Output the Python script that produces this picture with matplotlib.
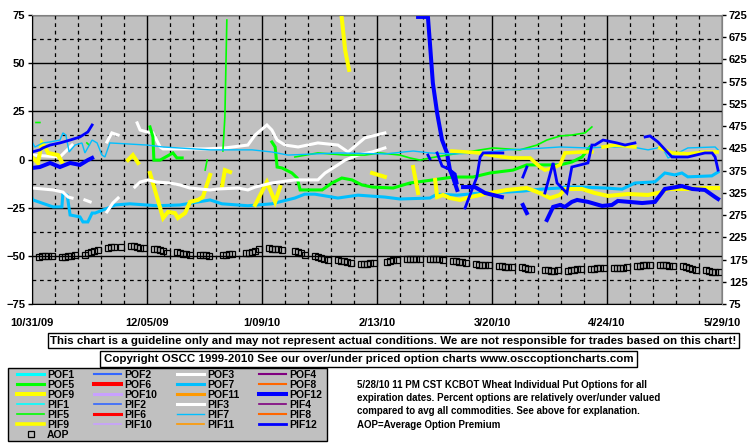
import numpy as np
import pandas as pd
import matplotlib
matplotlib.use("Agg")
import matplotlib.pyplot as plt
from matplotlib.ticker import MultipleLocator
from matplotlib.patches import Rectangle

plt.rcParams['font.family'] = ['Liberation Sans', 'DejaVu Sans']
plt.rcParams['font.weight'] = 'bold'

nan = np.nan

# x = calendar days after 10/31/09
date_labels = ['10/31/09', '12/05/09', '1/09/10', '2/13/10', '3/20/10', '4/24/10', '5/29/10']

pof7_days = [0, 0.3, 6.4, 9.1, 9.4, 10.7, 11.6, 14.6, 15.5, 17, 18.3, 19.2, 23.1, 25.3, 29.8, 38, 45, 54.2, 57.8,
             65.7, 73, 80, 83, 86.1, 93.1, 99.2, 107.4, 112, 121.1, 123.3, 129.4, 136.4, 144.6, 149.4, 154.6,
             160.7, 162.2, 167.4, 174.5, 179.6, 183.5, 189.6, 192.6, 195.6, 197.8, 199.6, 206.9, 208.8]
pof7_vals = [-20, -21, -24.6, -24.6, -17.4, -18.5, -28.8, -29.8, -32.4, -32.4, -27.8, -27.8, -25.2, -23.6, -23,
             -24, -23.6, -21, -23, -24, -23, -20, -18, -18, -20, -18.5, -19.5, -20.5, -20, -18, -18.5, -17.4,
             -16.9, -16.4, -15.4, -14.8, -14.3, -14.3, -14.8, -15.4, -12.2, -11.6, -7, -8, -7, -9, -8.5, -6.5]

pif7_days = [0, 0.9, 3.3, 5.5, 8.5, 9.4, 10.3, 11.3, 13.1, 15.2, 16.1, 18.3, 19.8, 21.3, 22.2, 23.7, 35, 39.9,
             54.2, 58.7, 67, 73, 77.9, 93.1, 107.4, 116, 121.1, 128.1, 136.4, 144.6, 151.6, 160.7, 169.2, 175.3,
             182.6, 187.5, 191.7, 193.6, 199.6, 207.9, 208.8]
pif7_vals = [9.1, 6.5, 8.6, 9.1, 10.1, 13.8, 12.7, 3.9, 7.5, 8.6, 3.4, 10.1, 8.6, 2.3, 1.3, 8.6, 7.5, 6.5, 5, 5,
             5, 3.9, 2.3, 3.4, 2.9, 4.4, 3.4, 2.9, 3.4, 5, 5.5, 6.5, 6, 6.5, 6.5, 5, 6.5, 0.8, 6, 6.5, 5]

pof3_days = [0.3, 8.5, 10.7, 12.2, nan, 22.8, 24.3, 26.2, nan, 32, 32.9, 35, 36.8, 39, 39.9, 46, 52.7, 58.7,
             65.7, 67.9, 71.5, 73, 74.6, 77, 81, 87, 93.1, 96.2, 101.3, 107.4]
pof3_vals = [2.3, 1.3, 5, 7.5, nan, 9.1, 13.8, 12.7, nan, 19, 15.3, 14.3, 13.8, 6.5, 5.5, 5.5, 5.5, 6, 7.5, 12.7,
             17.9, 15.3, 10.1, 7.5, 6.5, 8.6, 7.5, 3.9, 11.2, 13.8]

pif3_days = [0, 3.3, 6.4, 9.4, 11, 12.2, nan, 16.1, 17.7, nan, 22.8, 24.6, 26.2, nan, 31.3, 32.9, 35.3, 38, 42,
             45, 48, 54.2, 56.6, 62.7, 65.7, 67.9, 73, 80, 87, 89.2, 93.1, 95.3, 99.2, 103.5, 107.4]
pif3_vals = [-14.8, -15.3, -15.8, -16.9, -19.5, -20, nan, -21, -22, nan, -27.2, -22.6, -20, nan, -14.3, -11.7,
             -10.6, -11.7, -12.2, -13.2, -14.8, -15.8, -15.3, -14.8, -15.8, -14.3, -12.2, -10.6, -10.6, -7, -2.8,
             -0.3, 2.3, 3.9, 6]

pof9_days = [0, 1.8, 3, 4, 4.9, 7.9, 9.1, nan, 29.2, 30.7, 32.3, nan, 35.9, 39.9, 41.4, 43.5, 44.4, 46.6, 48.1,
             50.5, 52, 54.2, nan, 57.8, 58.7, 60.3, nan, 67.9, 71.5, 74, 75.5, nan, 94, 95.3, 95.9, 96.5, nan,
             103.5, 107.4, nan, 116, 117.5, nan, 122.7, 123.3, 125.1, 127.2, 130.3, 133.3, 139.4, 144.6, 150.6,
             154.6, 157.7, 160.7, 162.2, 167.4, 171.3, 175.3, 181.4, 187.5, 191.7, 193.6, 199.6, 204.8, 208.8]
pof9_vals = [1.3, -1.8, 8.6, 6.5, 3.4, 2.3, -1.3, nan, -0.3, 2.3, -1.8, nan, -7, -30.4, -27.2, -27.8, -30.4,
             -27.8, -22, -21, -19.5, -8, nan, -14.3, -5.5, -6.5, nan, -23.6, -11.7, -22, -14.3, nan, 78, 56.8,
             51.6, 46.5, nan, -7, -9, nan, -3.9, -17.4, nan, -10.6, -19.5, -18.4, -20, -21, -19.5, -17.4, -15.8,
             -14.8, -17.4, -20, -18.4, -15.3, -15.3, -17.4, -18.9, -17.9, -18.4, -16.9, -15.3, -15.3, -14.8, -14.8]

pif9_days = [127.8, 136.4, 139.4, 143.3, 146.4, 151.6, 154.6, 156.1, 158.6, 160.7, 162.2, 167.4, 170.4, nan,
             173.8, 177.4, 183.5, nan, 191.1, 194.8, 199.6, 204.8, 208.5]
pif9_vals = [4.4, 3.4, 2.3, 1.3, 0.8, 0.8, -3.9, -5.5, -4.4, -2.8, 3.4, 3.9, 3.9, nan, 6.5, 7.5, 6.5, nan, 6,
             3.4, 2.9, 3.9, 3.9]

pof5_days = [35.9, 36.8, 37.1, 39, 42.9, 44.1, 45.7, nan, 73, 74, 74.6, 76.1, 79.1, 80.7, 81.6, 88.3, 91.3, 94.3,
             97.4, 100.4, 103.5, 109.9, 115, 122, 128.1, 134.2, 139.4, 146.4, 150.6, 155.5, 160.7, 164.3, 167.4,
             169.8]
pof5_vals = [16.9, 11.7, -0.3, -0.3, 3.4, 0.8, 0.8, nan, 9.1, 6.5, -3.9, -4.4, -7, -9.6, -15.8, -15.8, -12.2,
             -9.6, -10.6, -13.2, -14.3, -14.8, -12.2, -10.6, -9.1, -9.1, -7, -5.5, -2.8, -2.8, -2.8, -1.3, 1.3, 6.5]

pif5_days = [1.2, 2.4, nan, 16.7, 17.4, nan, 52.7, 53.3, nan, 58.1, 58.7, 59.3, nan, 80, 87, 95.3, 101.3, 105.9,
             112, 115, 118.1, 121.1, 126.3, 132.4, 140.3, 148.5, 153.7, 156.7, 160.7, 164.3, 168.3, 170.4]
pif5_vals = [19.2, 19.2, nan, 8.6, 7.5, nan, -5.5, -0.3, nan, 4.4, 22, 72.4, nan, 1.3, 3.4, 2.3, 2.3, 3.4, 2.3,
             0.8, -0.3, 0.8, 2.3, 3.9, 6, 5, 7.5, 10.1, 12.2, 12.7, 13.8, 16.9]

pof12_days = [0, 2.4, 5.5, 8.5, 11.6, 14.6, 17, 18.3, nan, 117.5, 120.5, 121.1, 122, 123.3, 124.8, 126.3, 127.2,
              128.1, 129.4, nan, 131.2, 134.8, 137.9, 143, nan, 149.4, 150.6, nan, 156.7, 158.6, 160.7, 162.2,
              164.3, 165.9, 169.2, 173.5, 176.5, 178.3, 185.7, 189.6, 192.6, 197.8, 200.9, 204.8, 207.9, 208.8]
pof12_vals = [-4.4, -3.9, -1.8, -3.9, -1.8, -2.8, -0.3, 0.8, nan, 74, 74, 60.5, 39.7, 24.1, 10.1, 3.4, -5.5,
              -9.1, -15.8, nan, -14.3, -14.3, -17.4, -19.5, nan, -23.6, -27.8, nan, -31.4, -24.6, -23.6, -24.6,
              -22, -21, -22, -24.1, -23.6, -21.5, -22.6, -22, -15.3, -13.8, -15.3, -15.8, -19.5, -20.5]

pif12_days = [0, 2.4, 3.3, 5.5, 8.5, 11.6, 14.6, 17, 18.3, nan, 120.5, 121.1, nan, 123.3, 124.8, 126.9, 128.8,
              129.4, nan, 131.8, 134.2, 135.4, 136.4, 137.3, 143.3, nan, 149.4, 150.6, nan, 156.1, 158.6, 159.8,
              162.8, 164.3, 169.2, 170.4, 171.3, 173.8, 178, 180.5, 183.5, nan, 186.6, 188.1, 190.5, 193.6, 194.8,
              199.6, 204.8, 207, 207.9, 208.8]
pif12_vals = [3.9, 5, 6, 7.5, 8.6, 10.1, 11.7, 14.3, 17.9, nan, 2.3, 0.3, nan, 3.4, -3.4, -5, -7.5, -12.2, nan,
              -25.2, -14.3, -9.1, 1.3, 3.4, 3.4, nan, -9.1, -3.9, nan, -17.4, -1.8, -12.2, -17.4, -3.9, -1.8, 7.5,
              7.5, 10.1, 8.6, 7.5, 8.6, nan, 11.7, 12.2, 9.1, 3.4, 1.3, 1.3, 3.4, 3.4, 1.3, -5.5]

# average option premium, one row per week (Mon..Fri), nan = holiday
aop_weeks = [
    [-50.5, -50, -50, -50, -50], [-50.5, -50.5, -50, -50, -49.5], [-49.5, -48.5, -48, -47.5, -47],
    [-46, -45.5, -45.5, nan, -45.5], [-45, -45, -45.5, -46, -46], [-46.5, -46.5, -47, -47.5, -48.5],
    [-48, -48.5, -49, -49, -49.5], [-49.5, -49.5, -49.5, -50, nan], [-49.5, -49.5, -49, -49, nan],
    [-48.5, -48.5, -48, -47.5, -46.7], [-46, -46.5, -46.5, -46.5, -47], [nan, -47.5, -48, -48.5, -49.5],
    [-50, -50.5, -51, -51.5, -52], [-52, -52.5, -52.5, -53, -53.5], [-54, -54, -54, -53.5, -53.5],
    [nan, -53, -52.5, -52, -52], [-51.6, -51.5, -51.5, -51.5, -51.6], [-51.7, -51.7, -51.7, -51.7, -52],
    [-52.5, -52.5, -53, -53, -53.5], [-54, -54.5, -54.5, -55, -55], [-55.5, -55.5, -56, -56, -56],
    [-56, -56.5, -57, -57, nan], [-57.3, -57.5, -57.8, -57.8, -57.5], [-57.7, -57.5, -57.3, -57, -57],
    [-57, -56.8, -56.5, -56.5, -56.5], [-56.2, -56.2, -56.2, -56.2, -56], [-55.5, -55.3, -55, -55, -55],
    [-55, -55, -55, -55.2, -55.3], [-55.5, -56, -56.5, -57, -57.5], [-57.5, -58, -58.3, -58.5, -58.6]]
aop_dates = pd.bdate_range('2009-11-02', '2010-05-28')
aop_days = (aop_dates - pd.Timestamp('2009-10-31')).days.values
aop_vals = np.array(aop_weeks).ravel()

# name -> (color, linewidth, days, vals)
series = {
    'POF1': ('#00FFFF', 2.2, [], []), 'POF2': ('#3366FF', 1.5, [], []),
    'POF3': ('#FFFFFF', 2.2, pof3_days, pof3_vals), 'POF4': ('#800080', 1.5, [], []),
    'POF5': ('#00FF00', 2.2, pof5_days, pof5_vals), 'POF6': ('#FF0000', 2.9, [], []),
    'POF7': ('#00BFFF', 2.2, pof7_days, pof7_vals), 'POF8': ('#FF6600', 1.5, [], []),
    'POF9': ('#FFFF00', 2.9, pof9_days, pof9_vals), 'POF10': ('#C8A0FF', 2.2, [], []),
    'POF11': ('#FF9900', 2.2, [], []), 'POF12': ('#0000FF', 2.9, pof12_days, pof12_vals),
    'PIF1': ('#00FFFF', 1.2, [], []), 'PIF2': ('#3366FF', 1.2, [], []),
    'PIF3': ('#FFFFFF', 2.2, pif3_days, pif3_vals), 'PIF4': ('#800080', 1.2, [], []),
    'PIF5': ('#00FF00', 1.2, pif5_days, pif5_vals), 'PIF6': ('#FF0000', 2.2, [], []),
    'PIF7': ('#00BFFF', 1.0, pif7_days, pif7_vals), 'PIF8': ('#FF6600', 1.5, [], []),
    'PIF9': ('#FFFF00', 2.6, pif9_days, pif9_vals), 'PIF10': ('#C8A0FF', 1.2, [], []),
    'PIF11': ('#FF9900', 1.2, [], []), 'PIF12': ('#0000FF', 2.0, pif12_days, pif12_vals),
}

fig = plt.figure(figsize=(7.55, 4.46), dpi=100)
ax = fig.add_axes([32/755, 1-304/446, 690/755, 289/446])
ax.set_facecolor('#C0C0C0')

handles = {}
for name, (col, lw, d, v) in series.items():
    handles[name], = ax.plot(d, v, color=col, lw=lw, label=name, solid_joinstyle='miter')
handles['AOP'], = ax.plot(aop_days, aop_vals, ls='none', marker='s', ms=4.8, mfc='none', mec='black',
                          mew=0.9, label='AOP')

ax.set_xlim(0, 210)
ax.set_ylim(-75, 75)
ax.xaxis.set_minor_locator(MultipleLocator(7))
ax.yaxis.set_major_locator(MultipleLocator(25))
ax.yaxis.set_minor_locator(MultipleLocator(12.5))
ax.set_xticks(np.arange(0, 211, 35))
ax.set_xticklabels(date_labels)
ax.grid(which='major', color='black', lw=1.0, ls='-')
ax.grid(which='minor', color='black', lw=0.9, ls=(0, (3, 3)))
ax.set_axisbelow(True)
ax.tick_params(axis='x', which='both', length=0, pad=10, labelsize=8)
ax.tick_params(axis='y', which='major', length=3, width=1, direction='out', pad=2, labelsize=8)
ax.tick_params(axis='y', which='minor', length=0)
for s in ['left', 'bottom']:
    ax.spines[s].set_color('black')
for s in ['top', 'right']:
    ax.spines[s].set_color('#808080')

ax2 = ax.twinx()
ax2.set_ylim(75, 725)
ax2.set_yticks(np.arange(75, 726, 50))
ax2.tick_params(axis='y', length=3, width=1, direction='out', pad=2, labelsize=8)
for s in ['top', 'left', 'bottom']:
    ax2.spines[s].set_visible(False)
ax2.spines['right'].set_color('#808080')

# legend box, drawn separately so the padding can differ left/top
fig.patches.append(Rectangle((8/755, 1-441/446), 319/755, 73/446, transform=fig.transFigure,
                             fc='#C0C0C0', ec='black', lw=1.0, zorder=-1))

# legend, row-major order laid out in 4 columns
order = ['POF%d' % i for i in range(1, 13)] + ['PIF%d' % i for i in range(1, 13)] + ['AOP']
colmajor = [order[r*4 + c] for c in range(4) for r in range(7) if r*4 + c < len(order)]
leg = fig.legend([handles[n] for n in colmajor], colmajor, ncol=4, loc='upper left',
                 bbox_to_anchor=(17/755, 1-369.5/446), bbox_transform=fig.transFigure, borderaxespad=0,
                 fontsize=7.5, handlelength=2.6, handletextpad=0.3, columnspacing=1.9,
                 labelspacing=0.0, borderpad=0.0, frameon=False)
leg.set_zorder(5)
for t in leg.get_texts():
    t.set_fontweight('bold')

fig.text(393.5/755, 1-340.5/446,
         'This chart is a guideline only and may not represent actual conditions. '
         'We are not responsible for trades based on this chart!',
         ha='center', va='center', fontsize=8.25,
         bbox=dict(boxstyle='square,pad=0.22', fc='white', ec='black', lw=1))
fig.text(368.5/755, 1-359/446,
         'Copyright OSCC 1999-2010 See our over/under priced option charts www.osccoptioncharts.com',
         ha='center', va='center', fontsize=8.25,
         bbox=dict(boxstyle='square,pad=0.3', fc='white', ec='black', lw=1))
fig.text(357/755, 1-380/446,
         '5/28/10 11 PM CST KCBOT Wheat Individual Put Options for all\n'
         'expiration dates. Percent options are relatively over/under valued\n'
         'compared to avg all commodities. See above for explanation.\n'
         'AOP=Average Option Premium',
         ha='left', va='top', fontsize=7, linespacing=1.4)

fig.savefig('out.png', dpi=100)
